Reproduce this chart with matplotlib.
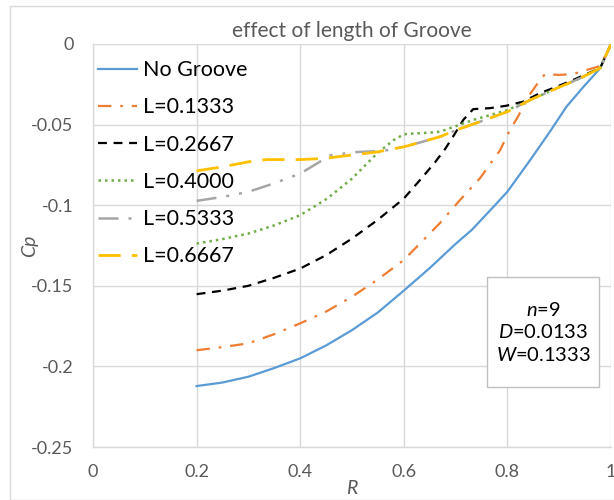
import matplotlib
matplotlib.use("Agg")
import matplotlib.pyplot as plt
from matplotlib.patches import Rectangle

plt.rcParams['font.family'] = ['Lato', 'DejaVu Sans']
plt.rcParams['mathtext.fontset'] = 'custom'
plt.rcParams['mathtext.rm'] = 'Lato'
plt.rcParams['mathtext.it'] = 'Lato:italic'

title = "effect of length of Groove"
x_label = "R"
y_label = "Cp"
x_ticks = [0, 0.2, 0.4, 0.6, 0.8, 1.0]
x_tick_labels = ["0", "0.2", "0.4", "0.6", "0.8", "1"]
y_ticks = [0, -0.05, -0.1, -0.15, -0.2, -0.25]
y_tick_labels = ["0", "-0.05", "-0.1", "-0.15", "-0.2", "-0.25"]
note_text = "$n$=9\n$D$=0.0133\n$W$=0.1333"

names = ["No Groove", "L=0.1333", "L=0.2667", "L=0.4000", "L=0.5333", "L=0.6667"]

r_nogroove = [0.2, 0.25, 0.3, 0.35, 0.4, 0.45, 0.5, 0.55, 0.6, 0.65, 0.7, 0.731, 0.776, 0.8,
              0.844, 0.882, 0.914, 0.947, 0.979, 1.0]
cp_nogroove = [-0.2122, -0.2100, -0.2064, -0.2010, -0.1950, -0.1870, -0.1775, -0.1665, -0.1530,
               -0.1390, -0.1240, -0.1154, -0.1000, -0.0916, -0.0720, -0.0544, -0.0389, -0.0265,
               -0.0151, 0.0]

r_l1 = [0.2, 0.25, 0.3, 0.35, 0.4, 0.45, 0.5, 0.55, 0.6, 0.635, 0.67, 0.7085, 0.747, 0.786,
        0.805, 0.8205, 0.84, 0.863, 0.873, 0.90, 0.927, 0.953, 0.979, 1.0]
cp_l1 = [-0.1900, -0.1880, -0.1857, -0.1800, -0.1733, -0.1660, -0.1568, -0.1460, -0.1340,
         -0.1225, -0.1110, -0.0968, -0.0833, -0.0658, -0.0533, -0.0450, -0.0328, -0.0223,
         -0.0186, -0.0192, -0.0186, -0.0161, -0.0137, 0.0]

r_l2 = [0.2, 0.25, 0.3, 0.35, 0.4, 0.45, 0.5, 0.55, 0.6, 0.635, 0.66, 0.68, 0.695, 0.715, 0.734,
        0.766, 0.798, 0.83, 0.863, 0.895, 0.927, 0.953, 0.979, 1.0]
cp_l2 = [-0.1552, -0.1530, -0.1500, -0.1450, -0.1393, -0.1310, -0.1207, -0.1090, -0.0959,
         -0.0830, -0.0735, -0.0650, -0.0575, -0.0470, -0.0404, -0.0398, -0.0383, -0.0358,
         -0.0305, -0.0265, -0.0223, -0.0186, -0.0150, 0.0]

r_l3 = [0.2, 0.25, 0.3, 0.35, 0.4, 0.452, 0.5, 0.548, 0.58, 0.6, 0.62, 0.65, 0.67, 0.70, 0.734,
        0.8, 0.844, 0.895, 0.94, 0.979, 1.0]
cp_l3 = [-0.1238, -0.1210, -0.1176, -0.1125, -0.1062, -0.0959, -0.0835, -0.0680, -0.0597,
         -0.0560, -0.0555, -0.0550, -0.0544, -0.0510, -0.0471, -0.0410, -0.0347, -0.0275,
         -0.0213, -0.0150, 0.0]

r_l4 = [0.2, 0.2516, 0.3, 0.348, 0.4, 0.432, 0.458, 0.51, 0.561, 0.6, 0.63, 0.67, 0.702, 0.747,
        0.8, 0.844, 0.895, 0.94, 0.979, 1.0]
cp_l4 = [-0.0973, -0.0948, -0.0917, -0.0866, -0.0804, -0.0742, -0.0690, -0.0670, -0.0663,
         -0.0638, -0.0612, -0.0575, -0.0533, -0.0482, -0.0420, -0.0347, -0.0275, -0.0213,
         -0.0150, 0.0]

r_l5 = [0.2, 0.25, 0.3, 0.335, 0.4, 0.445, 0.497, 0.548, 0.6, 0.63, 0.67, 0.702, 0.747, 0.8,
        0.844, 0.895, 0.94, 0.979, 1.0]
cp_l5 = [-0.0787, -0.0762, -0.0731, -0.0717, -0.0717, -0.0710, -0.0690, -0.0670, -0.0638,
         -0.0612, -0.0575, -0.0533, -0.0482, -0.0420, -0.0347, -0.0275, -0.0213, -0.0150, 0.0]

series = [
    (r_nogroove, cp_nogroove, dict(color="#5B9BD5", linestyle="-", linewidth=1.6)),
    (r_l1, cp_l1, dict(color="#ED7D31", linestyle=(0, (6, 4, 1.2, 4)), linewidth=1.6)),
    (r_l2, cp_l2, dict(color="#000000", linestyle=(0, (4, 3)), linewidth=1.6)),
    (r_l3, cp_l3, dict(color="#70AD47", linestyle=(0, (1, 1.6)), linewidth=1.8)),
    (r_l4, cp_l4, dict(color="#A5A5A5", linestyle=(0, (8, 4, 1.2, 4, 1.2, 4)), linewidth=1.8)),
    (r_l5, cp_l5, dict(color="#FFC000", linestyle=(0, (8, 4)), linewidth=2.0)),
]

fig = plt.figure(figsize=(6.14, 5.0), dpi=100)
ax = fig.add_axes([93/614, 1-447/500, (611-93)/614, (447-44)/500])

for (r, cp, st), name in zip(series, names):
    ax.plot(r, cp, label=name, **st)

ax.set_xlim(0, 1)
ax.set_ylim(-0.25, 0)
ax.set_xticks(x_ticks)
ax.set_xticklabels(x_tick_labels)
ax.set_yticks(y_ticks)
ax.set_yticklabels(y_tick_labels)
ax.tick_params(axis='both', length=0, labelsize=13, labelcolor="#595959")
ax.tick_params(axis='x', pad=12)
ax.tick_params(axis='y', pad=14)
ax.grid(True, color="#D9D9D9", linewidth=1)
ax.set_axisbelow(True)
for s in ["top", "right"]:
    ax.spines[s].set_visible(False)
for s in ["left", "bottom"]:
    ax.spines[s].set_color("#D9D9D9")
    ax.spines[s].set_linewidth(1)

ax.set_title(title, fontsize=15, color="#595959", pad=5)
ax.set_xlabel(x_label, fontsize=14, color="#595959", style="italic", labelpad=0)
ax.set_ylabel(y_label, fontsize=14, color="#595959", style="italic")
ax.yaxis.set_label_coords(-0.106, 0.5)

leg = ax.legend(loc="upper left", frameon=False, fontsize=15.5, handlelength=1.8,
                handletextpad=0.25, labelspacing=0.80, borderaxespad=0.0, borderpad=0.25,
                bbox_to_anchor=(0.0, 0.973))

ax.add_patch(Rectangle((0.761, 0.149), 0.216, 0.273, transform=ax.transAxes,
                       facecolor="white", edgecolor="#BFBFBF", linewidth=1, zorder=5))
ax.text(0.869, 0.285, note_text, transform=ax.transAxes,
        ha="center", va="center", fontsize=14.5, linespacing=1.3, color="#000000", zorder=6)

fig.patches.append(Rectangle((10/614, 0), 1, 1-6/500, transform=fig.transFigure,
                             fill=False, edgecolor="#D9D9D9", linewidth=1))

fig.savefig("out.png", dpi=100)
